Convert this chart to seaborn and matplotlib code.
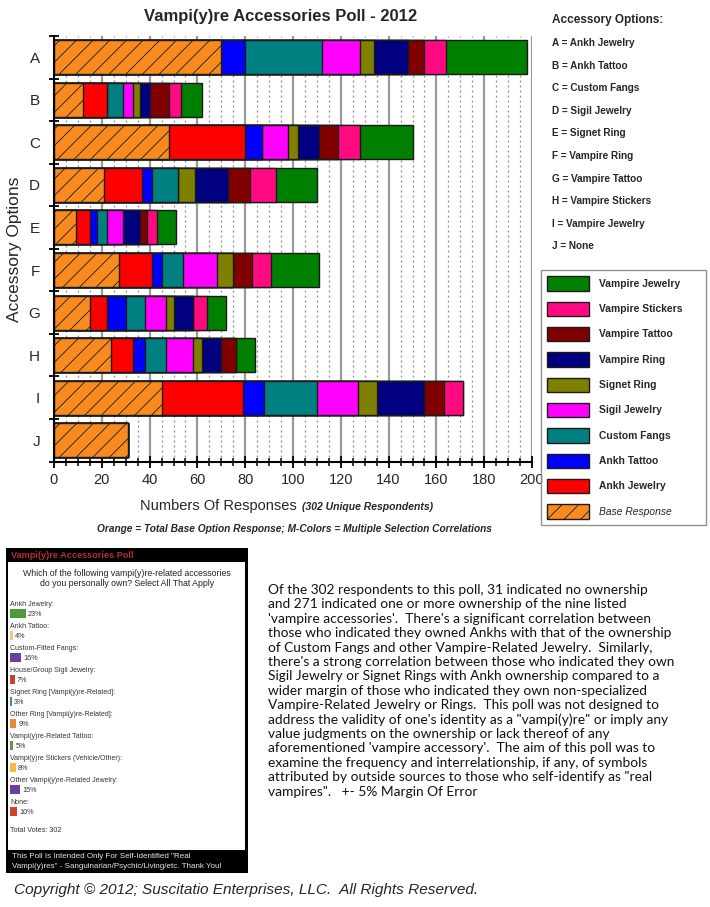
import numpy as np
import pandas as pd
import matplotlib
matplotlib.use("Agg")
import matplotlib.pyplot as plt
import seaborn as sns
from matplotlib.patches import Patch, Rectangle

# ---------------- data ----------------
options = ["A", "B", "C", "D", "E", "F", "G", "H", "I", "J"]
option_names = ["Ankh Jewelry", "Ankh Tattoo", "Custom Fangs", "Sigil Jewelry", "Signet Ring",
                "Vampire Ring", "Vampire Tattoo", "Vampire Stickers", "Vampire Jewelry", "None"]

base_response    = [70, 12, 48, 21, 9, 27, 15, 24, 45, 31]
ankh_jewelry     = [0, 10, 32, 16, 6, 14, 7, 9, 34, 0]
ankh_tattoo      = [10, 0, 7, 4, 3, 4, 8, 5, 9, 0]
custom_fangs     = [32, 7, 0, 11, 4, 9, 8, 9, 22, 0]
sigil_jewelry    = [16, 4, 11, 0, 7, 14, 9, 11, 17, 0]
signet_ring      = [6, 3, 4, 7, 0, 7, 3, 4, 8, 0]
vampire_ring     = [14, 4, 9, 14, 7, 0, 8, 8, 20, 0]
vampire_tattoo   = [7, 8, 8, 9, 3, 8, 0, 6, 8, 0]
vampire_stickers = [9, 5, 9, 11, 4, 8, 6, 0, 8, 0]
vampire_jewelry  = [34, 9, 22, 17, 8, 20, 8, 8, 0, 0]

series_names = ["Base Response", "Ankh Jewelry", "Ankh Tattoo", "Custom Fangs", "Sigil Jewelry",
                "Signet Ring", "Vampire Ring", "Vampire Tattoo", "Vampire Stickers", "Vampire Jewelry"]
series_values = [base_response, ankh_jewelry, ankh_tattoo, custom_fangs, sigil_jewelry,
                 signet_ring, vampire_ring, vampire_tattoo, vampire_stickers, vampire_jewelry]
series_colors = ["#F88A1E", "#FF0000", "#0000FF", "#008080", "#FF00FF",
                 "#808000", "#000080", "#800000", "#FF0A80", "#008000"]

poll_labels = ["Ankh Jewelry:", "Ankh Tattoo:", "Custom-Fitted Fangs:", "House/Group Sigil Jewelry:",
               "Signet Ring [Vampi(y)re-Related]:", "Other Ring [Vampi(y)re-Related]:",
               "Vampi(y)re-Related Tattoo:", "Vampi(y)re Stickers (Vehicle/Other):",
               "Other Vampi(y)re-Related Jewelry:", "None:"]
poll_pct = [23, 4, 16, 7, 3, 9, 5, 8, 15, 10]
poll_colors = ["#4C9A3C", "#EBCB7A", "#6B3FA0", "#C8402E", "#4F86A8",
               "#EA8B33", "#5E9650", "#F2B944", "#6B3FA0", "#D0412F"]
total_votes = 302

paragraph = [
    "Of the 302 respondents to this poll, 31 indicated no ownership",
    "and 271 indicated one or more ownership of the nine listed",
    "'vampire accessories'.  There's a significant correlation between",
    "those who indicated they owned Ankhs with that of the ownership",
    "of Custom Fangs and other Vampire-Related Jewelry.  Similarly,",
    "there's a strong correlation between those who indicated they own",
    "Sigil Jewelry or Signet Rings with Ankh ownership compared to a",
    "wider margin of those who indicated they own non-specialized",
    "Vampire-Related Jewelry or Rings.  This poll was not designed to",
    "address the validity of one's identity as a \"vampi(y)re\" or imply any",
    "value judgments on the ownership or lack thereof of any",
    "aforementioned 'vampire accessory'.  The aim of this poll was to",
    "examine the frequency and interrelationship, if any, of symbols",
    "attributed by outside sources to those who self-identify as \"real",
    "vampires\".   +- 5% Margin Of Error",
]

# ---------------- figure ----------------
sns.set_theme(style="white")
plt.rcParams["font.family"] = ["Liberation Sans", "DejaVu Sans"]
plt.rcParams["hatch.linewidth"] = 0.6

W, H = 710, 907
fig = plt.figure(figsize=(W / 100, H / 100), dpi=100)
fig.patch.set_facecolor("white")

def fx(px):
    return px / W

def fy(py):
    return 1 - py / H

ax = fig.add_axes([fx(54), fy(461.5), fx(532) - fx(54), fy(36) - fy(461.5)])

df = pd.DataFrame({"option": options})
cum = np.zeros(len(options))
cums = []
for vals in series_values:
    cum = cum + np.array(vals)
    cums.append(cum.copy())

for name, c, col in reversed(list(zip(series_names, cums, series_colors))):
    df["v"] = c
    kw = dict(hatch="//") if name == "Base Response" else {}
    sns.barplot(data=df, x="v", y="option", orient="h", color=col, saturation=1,
                edgecolor="#1a1a1a", linewidth=1.0, width=0.8, ax=ax, **kw)

ax.set_xlim(0, 200)
ax.set_xticks(np.arange(0, 201, 20))
ax.set_xticks(np.arange(0, 201, 5), minor=True)
ax.set_yticks(np.arange(-0.5, len(options), 1), minor=True)
ax.set_axisbelow(True)
ax.grid(which="major", axis="x", color="#9a9a9a", lw=1.6, ls="-")
ax.grid(which="minor", axis="x", color="#8a8a8a", lw=0.9, ls=(0, (1.5, 2.5)))
ax.grid(which="major", axis="y", visible=False)
for s in ["top", "right"]:
    ax.spines[s].set_visible(False)
for s in ["left", "bottom"]:
    ax.spines[s].set_color("black")
    ax.spines[s].set_linewidth(1.5)
ax.tick_params(axis="x", which="major", direction="inout", length=9, width=1.3, color="black",
               labelsize=10.5, pad=4, bottom=True)
ax.tick_params(axis="x", which="minor", direction="inout", length=6, width=1.1, color="black", bottom=True)
ax.tick_params(axis="y", which="major", length=0, labelsize=11, pad=10)
ax.tick_params(axis="y", which="minor", direction="inout", length=7, width=1.3, color="black", left=True)
ax.set_xlabel("")
ax.set_ylabel("")
fig.text(fx(15), fy(249), "Accessory Options", rotation=90, ha="center", va="center", fontsize=12.5)

# titles & captions
fig.text(fx(281), fy(17), "Vampi(y)re Accessories Poll - 2012", ha="center", va="center",
         fontsize=12, fontweight="bold")
fig.text(fx(297), fy(506), "Numbers Of Responses", ha="right", va="center", fontsize=10.5)
fig.text(fx(302), fy(507), "(302 Unique Respondents)", ha="left", va="center", fontsize=7.5,
         fontweight="bold", fontstyle="italic")
fig.text(fx(294), fy(529), "Orange = Total Base Option Response; M-Colors = Multiple Selection Correlations",
         ha="center", va="center", fontsize=7.3, fontweight="bold", fontstyle="italic")

# right-hand option key
fig.text(fx(552), fy(20), "Accessory Options:", ha="left", va="center", fontsize=8.5, fontweight="bold")
for i, (o, n) in enumerate(zip(options, option_names)):
    fig.text(fx(552), fy(43 + i * 22.6), f"{o} = {n}", ha="left", va="center",
             fontsize=7.2, fontweight="bold")

# legend
handles = []
for name, col in reversed(list(zip(series_names, series_colors))):
    if name == "Base Response":
        handles.append(Patch(facecolor=col, edgecolor="#1a1a1a", hatch="//", label=name))
    else:
        handles.append(Patch(facecolor=col, edgecolor="#1a1a1a", label=name))
leg = fig.legend(handles=handles, loc="upper left",
                 bbox_to_anchor=(fx(541), fy(525), fx(706) - fx(541), fy(270) - fy(525)),
                 bbox_transform=fig.transFigure, mode="expand", frameon=True, fancybox=False,
                 edgecolor="#777777", prop=dict(size=7.4, weight="bold"),
                 handlelength=4.1, handleheight=1.8, labelspacing=1.05, borderpad=0.6,
                 handletextpad=0.9, borderaxespad=0)
leg.get_frame().set_linewidth(1.0)
leg.get_texts()[-1].set_fontweight("normal")
leg.get_texts()[-1].set_fontstyle("italic")

# ---------------- poll screenshot box ----------------
bx0, by0, bx1, by1 = 6, 548, 248, 873
pax = fig.add_axes([fx(bx0), fy(by1), fx(bx1) - fx(bx0), fy(by0) - fy(by1)])
bw, bh = bx1 - bx0, by1 - by0
pax.set_xlim(0, bw)
pax.set_ylim(bh, 0)
pax.axis("off")
pax.add_patch(Rectangle((0, 0), bw, bh, facecolor="black", edgecolor="black"))
pax.add_patch(Rectangle((2.5, 14), bw - 5, 288, facecolor="white", edgecolor="none"))
pax.text(5, 7.5, "Vampi(y)re Accessories Poll", color="#B3322A", fontsize=6.6, fontweight="bold",
         ha="left", va="center")
pax.text(bw / 2, 25, "Which of the following vampi(y)re-related accessories", fontsize=6.3,
         ha="center", va="center", color="#222222")
pax.text(bw / 2, 36, "do you personally own? Select All That Apply", fontsize=6.3,
         ha="center", va="center", color="#222222")
px_per_pct = 0.7
for i, (lab, p, col) in enumerate(zip(poll_labels, poll_pct, poll_colors)):
    ly = 56 + i * 22
    pax.text(4, ly, lab, fontsize=5.0, ha="left", va="center", color="#333333")
    pax.barh(ly + 9, p * px_per_pct, left=4, height=9, color=col, edgecolor="none")
    pax.text(4 + p * px_per_pct + 2, ly + 10.5, f"{p}%", fontsize=5.2, ha="left", va="center",
             color="#333333")
pax.text(4, 283, f"Total Votes: {total_votes}", fontsize=5.2, ha="left", va="center", color="#333333")
pax.text(6, 308, "This Poll Is Intended Only For Self-Identified \"Real", fontsize=5.8,
         ha="left", va="center", color="#e8e8e8")
pax.text(6, 318.5, "Vampi(y)res\" - Sanguinarian/Psychic/Living/etc. Thank You!", fontsize=5.8,
         ha="left", va="center", color="#e8e8e8")

# ---------------- paragraph ----------------
for i, line in enumerate(paragraph):
    fig.text(fx(268), fy(590 + i * 14.4), line, ha="left", va="center", fontsize=9.9,
             family=["Lato", "DejaVu Sans"], color="#111111")

fig.text(fx(14), fy(890), "Copyright \u00a9 2012; Suscitatio Enterprises, LLC.  All Rights Reserved.",
         ha="left", va="center", fontsize=11.1, fontstyle="italic")

fig.savefig("out.png", dpi=100, facecolor="white")
